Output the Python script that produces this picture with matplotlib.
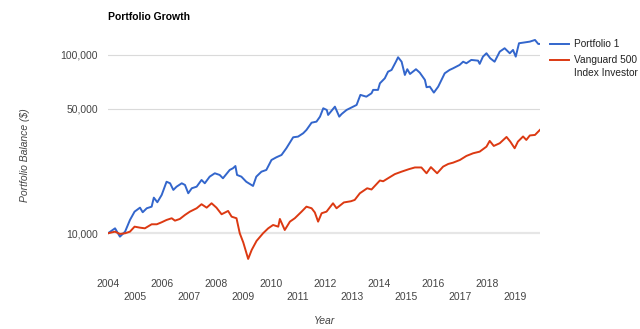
import matplotlib
matplotlib.use('Agg')
import matplotlib.pyplot as plt
from matplotlib.lines import Line2D

plt.rcParams['font.family'] = ['Liberation Sans', 'DejaVu Sans']

# Portfolio 1 (decimal year, balance)
p1_dates = [2004.00, 2004.26, 2004.44, 2004.63, 2004.81, 2004.98, 2005.18, 2005.28, 2005.43, 2005.61,
            2005.69, 2005.82, 2005.98, 2006.16, 2006.29, 2006.41, 2006.53, 2006.72, 2006.84, 2006.96,
            2007.09, 2007.27, 2007.45, 2007.57, 2007.75, 2007.94, 2008.12, 2008.24, 2008.49, 2008.61,
            2008.70, 2008.76, 2008.92, 2009.10, 2009.35, 2009.47, 2009.66, 2009.84, 2010.03, 2010.21,
            2010.40, 2010.58, 2010.83, 2011.01, 2011.20, 2011.32, 2011.51, 2011.69, 2011.82, 2011.94,
            2012.07, 2012.12, 2012.37, 2012.53, 2012.62, 2012.80, 2013.17, 2013.31, 2013.53, 2013.72,
            2013.78, 2013.96, 2014.03, 2014.21, 2014.33, 2014.46, 2014.62, 2014.70, 2014.83, 2014.95,
            2015.04, 2015.14, 2015.36, 2015.50, 2015.69, 2015.75, 2015.87, 2016.02, 2016.18, 2016.42,
            2016.60, 2016.73, 2016.97, 2017.10, 2017.22, 2017.40, 2017.65, 2017.71, 2017.83, 2017.96,
            2018.10, 2018.26, 2018.45, 2018.63, 2018.82, 2018.94, 2019.04, 2019.16, 2019.31, 2019.56,
            2019.75, 2019.87, 2019.93]
p1_values = [10000, 10660, 9570, 10210, 11875, 13220, 13920, 13120, 13810, 14100,
             15840, 14930, 16400, 19450, 19070, 17500, 18250, 19070, 18660, 16760,
             17880, 18250, 19900, 19070, 20770, 21700, 21230, 20340, 22650, 23150,
             23830, 21230, 20770, 19450, 18420, 20770, 22150, 22650, 25760, 26670,
             27480, 29990, 34540, 34830, 36380, 37960, 41700, 42270, 45080, 50230,
             49150, 46080, 51290, 45080, 46670, 49150, 52440, 59700, 58340, 60950,
             63680, 63680, 69340, 73960, 80550, 82400, 91640, 97050, 91640, 77230,
             83170, 78220, 83170, 79570, 72440, 65920, 66400, 61480, 66400, 78890,
             82400, 84170, 87900, 91640, 89800, 93760, 92900, 89130, 97790, 102200,
             95770, 91640, 104350, 109040, 102200, 106660, 97840, 116300, 117200, 118760,
             121340, 115280, 115280]

# Vanguard 500 Index Investor (decimal year, balance)
vg_dates = [2004.00, 2004.26, 2004.44, 2004.63, 2004.81, 2004.98, 2005.18, 2005.36, 2005.61, 2005.80,
            2005.98, 2006.16, 2006.35, 2006.47, 2006.65, 2006.84, 2007.02, 2007.27, 2007.45, 2007.64,
            2007.82, 2008.00, 2008.19, 2008.43, 2008.56, 2008.74, 2008.86, 2008.99, 2009.17, 2009.30,
            2009.48, 2009.72, 2009.91, 2010.09, 2010.28, 2010.34, 2010.52, 2010.71, 2010.89, 2011.14,
            2011.32, 2011.51, 2011.63, 2011.75, 2011.88, 2012.06, 2012.30, 2012.43, 2012.70, 2012.96,
            2013.10, 2013.29, 2013.56, 2013.72, 2014.03, 2014.15, 2014.33, 2014.58, 2014.83, 2015.10,
            2015.32, 2015.56, 2015.75, 2015.91, 2016.14, 2016.36, 2016.55, 2016.73, 2016.98, 2017.22,
            2017.47, 2017.71, 2017.96, 2018.08, 2018.23, 2018.45, 2018.70, 2018.84, 2019.00, 2019.12,
            2019.31, 2019.43, 2019.56, 2019.75, 2019.93]
vg_values = [10000, 10210, 9910, 10000, 10210, 10890, 10750, 10660, 11230, 11230,
             11527, 11875, 12140, 11770, 12030, 12670, 13220, 13810, 14550, 13920,
             14730, 13920, 12780, 13340, 12390, 12140, 10000, 8880, 7180, 8060,
             9060, 10000, 10660, 11130, 10890, 12030, 10430, 11620, 12140, 13220,
             14100, 13810, 13080, 11620, 12950, 13220, 14730, 13810, 14890, 15120,
             15380, 16760, 17880, 17600, 19770, 19570, 20350, 21460, 22160, 22880,
             23390, 23390, 21700, 23490, 21700, 23640, 24470, 24890, 25760, 27140,
             28100, 28690, 30600, 32950, 30880, 31980, 34680, 32650, 29970, 32650,
             34900, 33370, 35360, 35600, 37960]

y_ticks = [10000, 50000, 100000]
y_labels = ['10,000', '50,000', '100,000']
even_years = [2004, 2006, 2008, 2010, 2012, 2014, 2016, 2018]
odd_years = [2005, 2007, 2009, 2011, 2013, 2015, 2017, 2019]

blue = '#3366cc'
red = '#dc3912'
grey = '#444444'

fig = plt.figure(figsize=(6.4, 3.29), dpi=100)
ax = fig.add_axes([108 / 640, 59 / 329, 432 / 640, 240 / 329])

ax.plot(p1_dates, p1_values, color=blue, lw=1.4, zorder=3)
ax.plot(vg_dates, vg_values, color=red, lw=1.4, zorder=3)

ax.set_yscale('log')
ax.set_ylim(6223, 138000)
ax.set_xlim(2004, 2019.935)
ax.set_yticks(y_ticks)
ax.set_yticklabels(y_labels)
ax.minorticks_off()
# gridlines: thin for 50k/100k, thicker pale baseline at 10k
for v in y_ticks[1:]:
    ax.axhline(v, color='#dadada', lw=0.8, zorder=1)
ax.axhline(y_ticks[0], color='#e6e6e6', lw=1.6, zorder=1)

ax.set_xticks(even_years)
ax.set_xticklabels([str(y) for y in even_years])
ax.set_xticks(odd_years, minor=True)
ax.set_xticklabels([str(y) for y in odd_years], minor=True)
ax.tick_params(axis='x', which='major', length=0, pad=6.3, labelsize=7.5, labelcolor=grey)
ax.tick_params(axis='x', which='minor', length=0, pad=16, labelsize=7.5, labelcolor=grey)
ax.tick_params(axis='y', which='both', length=0, pad=7.2, labelsize=7.5, labelcolor=grey)
for s in ax.spines.values():
    s.set_visible(False)

fig.text(108 / 640, 1 - 17.3 / 329, 'Portfolio Growth', fontsize=7.5, fontweight='bold',
         ha='left', va='center', color='#000000')
fig.text(25 / 640, 1 - 155 / 329, 'Portfolio Balance ($)', fontsize=7.5, style='italic',
         rotation=90, ha='center', va='center', color=grey)
fig.text(325 / 640, 1 - 320.7 / 329, 'Year', fontsize=7.5, style='italic',
         ha='center', va='center', color=grey)

# legend
fig.add_artist(Line2D([550 / 640, 569 / 640], [1 - 44 / 329] * 2, color=blue, lw=1.4,
                      transform=fig.transFigure))
fig.add_artist(Line2D([550 / 640, 569 / 640], [1 - 60 / 329] * 2, color=red, lw=1.4,
                      transform=fig.transFigure))
fig.text(573.5 / 640, 1 - 44 / 329, 'Portfolio 1', fontsize=7.3, ha='left', va='center', color='#222222')
fig.text(573.5 / 640, 1 - 60 / 329, 'Vanguard 500', fontsize=7.3, ha='left', va='center', color='#222222')
fig.text(573.5 / 640, 1 - 72.7 / 329, 'Index Investor', fontsize=7.3, ha='left', va='center', color='#222222')

fig.savefig('out.png', dpi=100)
